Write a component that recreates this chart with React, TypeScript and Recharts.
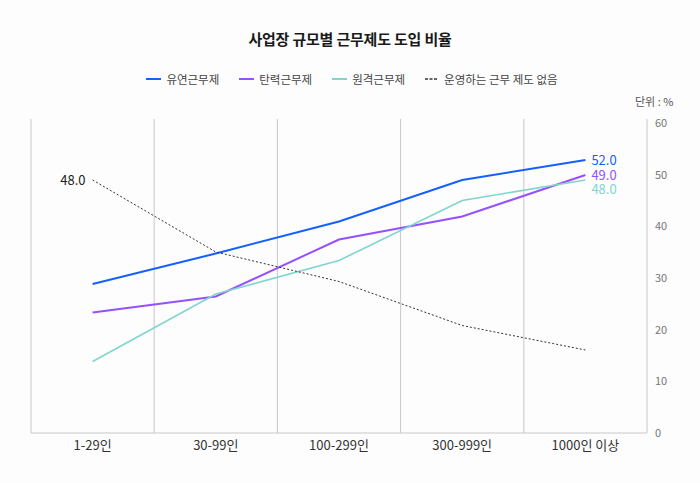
import React from "react";
import { LineChart, Line, XAxis, YAxis, CartesianGrid, LabelList } from "recharts";

const categories = ["1-29인", "30-99인", "100-299인", "300-999인", "1000인 이상"];
const flexible = [27.2, 33.3, 39.7, 48.0, 52.0];
const elastic = [21.5, 24.7, 36.1, 40.7, 49.0];
const remote = [11.7, 25.2, 31.9, 43.9, 48.0];
const none = [48.0, 33.6, 27.7, 18.9, 14.0];
const yTicks = [0, 10, 20, 30, 40, 50, 60];

const series = [
  { key: "flexible", name: "유연근무제", color: "#1460ff", width: 2, dash: undefined as string | undefined, label: "end", dy: 0 },
  { key: "elastic", name: "탄력근무제", color: "#9650ff", width: 2, dash: undefined, label: "end", dy: 0 },
  { key: "remote", name: "원격근무제", color: "#80d5cf", width: 1.6, dash: undefined, label: "end", dy: 9 },
  { key: "none", name: "운영하는 근무 제도 없음", color: "#333333", width: 1, dash: "2 2", label: "start", dy: 0 },
];

const data = categories.map((c, i) => ({
  category: c,
  flexible: flexible[i],
  elastic: elastic[i],
  remote: remote[i],
  none: none[i],
}));

const FONT = "'Noto Sans CJK KR', 'Noto Sans', sans-serif";
const PLOT_W = 616;
const HALF_BAND = PLOT_W / categories.length / 2;

function makeLabel(s: (typeof series)[number]) {
  return (props: any) => {
    const { x, y, value, index } = props;
    const last = categories.length - 1;
    if (s.label === "end" && index === last) {
      return (
        <text x={x + 6} y={y + s.dy} dy="0.35em" fontSize={13} fill={s.color} fontFamily={FONT}>
          {Number(value).toFixed(1)}
        </text>
      );
    }
    if (s.label === "start" && index === 0) {
      return (
        <text x={x - 7} y={y} dy="0.35em" fontSize={13} fill="#222" textAnchor="end" fontFamily={FONT}>
          {Number(value).toFixed(1)}
        </text>
      );
    }
    return null;
  };
}

const bandBoundaries = (props: any) => {
  const off = props.offset;
  const n = categories.length;
  return categories.map((_, i) => off.left + (off.width * i) / n);
};

export default function App() {
  return (
    <div style={{ position: "absolute", left: 0, top: 0, width: 700, height: 483, background: "#fdfdfd", fontFamily: FONT }}>
      <div style={{ position: "absolute", top: 28, left: 0, width: 700, textAlign: "center", fontSize: 15, fontWeight: 700, color: "#1a1a1a", letterSpacing: "-0.2px" }}>
        사업장 규모별 근무제도 도입 비율
      </div>
      <div style={{ position: "absolute", top: 71, left: 2, width: 700, display: "flex", justifyContent: "center", gap: 20, fontSize: 11.5, color: "#444" }}>
        {series.map((s) => (
          <div key={s.key} style={{ display: "flex", alignItems: "center" }}>
            <svg width={s.dash ? 12 : 15} height={10} style={{ marginRight: s.dash ? 7 : 5 }}>
              <line x1={0} y1={5} x2={s.dash ? 12 : 15} y2={5} stroke={s.color} strokeWidth={s.dash ? 1.5 : 2} strokeDasharray={s.dash ? "3 1.5" : undefined} />
            </svg>
            <span>{s.name}</span>
          </div>
        ))}
      </div>
      <div style={{ position: "absolute", top: 93, left: 635, fontSize: 11, color: "#555" }}>단위 : %</div>
      <div style={{ position: "absolute", left: 0, top: 0 }}>
        <LineChart width={700} height={483} data={data} margin={{ top: 119, right: 13, bottom: 20, left: 31 }}>
          <CartesianGrid
            xAxisId="cat"
            yAxisId="data"
            horizontal={false}
            vertical
            stroke="#c8c8c8"
            verticalCoordinatesGenerator={bandBoundaries}
          />
          <XAxis
            xAxisId="cat"
            dataKey="category"
            axisLine={{ stroke: "#c8c8c8" }}
            tickLine={false}
            height={30}
            padding={{ left: HALF_BAND, right: HALF_BAND }}
            tick={{ fontSize: 13, fill: "#333", fontFamily: FONT }}
          />
          <YAxis
            yAxisId="tick"
            orientation="right"
            domain={[0, 60.77]}
            allowDataOverflow
            ticks={yTicks}
            axisLine={{ stroke: "#c8c8c8" }}
            tickLine={false}
            width={40}
            tick={{ fontSize: 11, fill: "#777", fontFamily: FONT }}
          />
          <YAxis yAxisId="data" domain={[-2.6, 60.2]} allowDataOverflow hide />
          {series.map((s) => (
            <Line
              key={s.key}
              xAxisId="cat"
              yAxisId="data"
              type="linear"
              dataKey={s.key}
              name={s.name}
              stroke={s.color}
              strokeWidth={s.width}
              strokeDasharray={s.dash}
              dot={false}
              activeDot={false}
              isAnimationActive={false}
            >
              <LabelList dataKey={s.key} content={makeLabel(s)} />
            </Line>
          ))}
        </LineChart>
      </div>
    </div>
  );
}
